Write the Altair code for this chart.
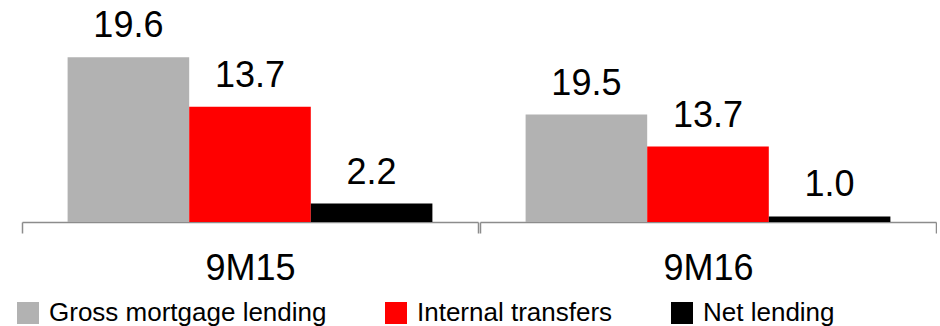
import altair as alt
import pandas as pd

periods = ["9M15", "9M16"]
series = ["Gross mortgage lending", "Internal transfers", "Net lending"]
values_9m15 = [19.6, 13.7, 2.2]
values_9m16 = [19.5, 13.7, 1.0]
colors = ["#b2b2b2", "#ff0000", "#000000"]
# each period panel in the original is drawn on its own vertical scale
y_max = {"9M15": 26.4, "9M16": 40.3}

rows = []
for s, v in zip(series, values_9m15):
    rows.append({"period": "9M15", "series": s, "value": v})
for s, v in zip(series, values_9m16):
    rows.append({"period": "9M16", "series": s, "value": v})
df = pd.DataFrame(rows)

FONT = "Liberation Sans"


def panel(period, show_legend):
    base = alt.Chart(df).transform_filter(alt.datum.period == period)
    x = alt.X("period:N", title=None,
              scale=alt.Scale(paddingInner=0, paddingOuter=0),
              axis=alt.Axis(labelFontSize=36, labelFont=FONT, labelColor="#000000",
                            labelAngle=0, labelPadding=18, domainColor="#8c8c8c",
                            domainWidth=1.5, tickColor="#8c8c8c", tickWidth=1.5,
                            tickSize=11, tickBand="extent", grid=False))
    xo = alt.XOffset("series:N", sort=series,
                     scale=alt.Scale(paddingInner=0, paddingOuter=0.375))
    y = alt.Y("value:Q", axis=None,
              scale=alt.Scale(domain=[0, y_max[period]], nice=False, zero=True))
    legend = alt.Legend(title=None, orient="none", legendX=-7, legendY=300,
                        direction="horizontal", columns=3, symbolType="square",
                        symbolSize=484, symbolStrokeWidth=0, labelFontSize=26,
                        labelFont=FONT, labelColor="#000000", labelOffset=8,
                        labelLimit=400, columnPadding=56)
    color = alt.Color("series:N", legend=legend, sort=series,
                      scale=alt.Scale(domain=series, range=colors))
    bars = base.mark_bar().encode(x=x, xOffset=xo, y=y, color=color)
    labels = base.mark_text(fontSize=36, font=FONT, color="#000000",
                            baseline="alphabetic", dy=-20).encode(
        x=x, xOffset=xo, y=y, text=alt.Text("value:Q", format=".1f"))
    return alt.layer(bars, labels).properties(width=456, height=222)


chart = alt.hconcat(panel("9M15", True), panel("9M16", True), spacing=0).properties(
    padding={"left": 15, "top": 0, "right": 0, "bottom": 0}
).configure_view(stroke=None).configure_concat(spacing=0)

chart.save("out.html", embed_options={"renderer": "svg", "actions": False})
